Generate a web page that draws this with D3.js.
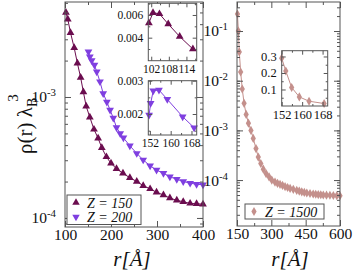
<!DOCTYPE html>
<html lang="en">
  <head>
    <meta charset="utf-8">
    <title>Density profiles</title>
    <script src="https://d3js.org/d3.v7.js"></script>
    <style>
    body {margin: 0; background: white;}
    svg {display: block; font-family: "Liberation Serif", "DejaVu Serif", serif;}
    </style>
  </head>
  <body>
  <script>

  // ---- data ----
  var r150   = [102, 106, 112, 120, 127, 134, 140, 146, 154, 163, 172, 180, 190, 200, 212, 226, 241, 256, 270, 285, 299, 314, 328, 343, 357, 372, 386, 400];
  var rho150 = [5.0e-3, 4.4e-3, 3.4e-3, 2.55e-3, 1.9e-3, 1.45e-3, 1.1e-3, 8.4e-4, 6.8e-4, 5.4e-4, 4.56e-4, 3.8e-4, 3.2e-4, 2.83e-4, 2.55e-4, 2.34e-4, 2.15e-4, 2.0e-4, 1.85e-4, 1.74e-4, 1.63e-4, 1.55e-4, 1.46e-4, 1.40e-4, 1.36e-4, 1.32e-4, 1.31e-4, 1.30e-4];

  var r200   = [151, 154, 158, 164, 169, 176, 183, 191, 198, 205, 212, 220, 227, 241, 256, 270, 285, 299, 314, 328, 343, 357, 372, 386, 400];
  var rho200 = [2.37e-3, 2.15e-3, 2.0e-3, 1.84e-3, 1.62e-3, 1.34e-3, 1.07e-3, 9.1e-4, 7.8e-4, 6.7e-4, 5.6e-4, 5.0e-4, 4.6e-4, 3.95e-4, 3.42e-4, 3.02e-4, 2.7e-4, 2.49e-4, 2.34e-4, 2.19e-4, 2.09e-4, 2.0e-4, 1.94e-4, 1.9e-4, 1.88e-4];

  var r1500   = [152, 156, 160, 166, 173, 181, 190, 200, 211, 221, 233, 243, 254, 265, 277, 290, 302, 316, 327, 338, 349, 360, 371, 382, 396, 411, 422, 433, 444, 455, 469, 483, 494, 505, 516, 527, 541, 556, 571, 586, 600];
  var rho1500 = [0.22, 0.10, 0.038, 0.015, 0.0068, 0.0035, 0.0021, 0.0014, 0.001, 6.9e-4, 4.3e-4, 2.9e-4, 2.15e-4, 1.66e-4, 1.35e-4, 1.16e-4, 1.0e-4, 9.1e-5, 8.6e-5, 8.2e-5, 7.8e-5, 7.4e-5, 7.1e-5, 6.8e-5, 6.5e-5, 6.2e-5, 6.0e-5, 5.8e-5, 5.65e-5, 5.5e-5, 5.38e-5, 5.26e-5, 5.18e-5, 5.1e-5, 5.05e-5, 5.0e-5, 4.97e-5, 4.94e-5, 4.9e-5, 4.86e-5, 4.84e-5];

  // insets
  var ri150   = [101.2, 102.6, 104.8, 107.8, 111.7, 116.2];
  var rhoi150 = [0.0053, 0.0062, 0.0061, 0.0052, 0.0041, 0.0030];
  var ri200   = [151.7, 152.3, 153.3, 155.5, 158.7, 164.6, 169];
  var rhoi200 = [0.00197, 0.00232, 0.0027, 0.00272, 0.00244, 0.00192, 0.00159];
  var ri1500   = [152, 153.6, 155.9, 158.9, 162.7, 168.6];
  var rhoi1500 = [0.29, 0.212, 0.112, 0.055, 0.029, 0.015];

  var leftXTicks  = [100, 200, 300, 400];
  var rightXTicks = [150, 300, 450, 600];
  var leftYTicks  = [1e-3, 1e-4];
  var rightYTicks = [1e-1, 1e-2, 1e-3, 1e-4];

  var c150 = "#6b0d4f", c200 = "#7f3fe0", c1500 = "#c4908c";
  var frameCol = "#555";

  var svg = d3.select("body").append("svg")
      .attr("width", 354).attr("height", 270);

  function zip(a, b) { return a.map((v, i) => [v, b[i]]); }

  // generic panel: frame + inside ticks on all four sides
  function frame(g, x, y, opt) {
    var x0 = x.range()[0], x1 = x.range()[1];
    var y0 = y.range()[1], y1 = y.range()[0];
    var ms = opt.major || 6, mn = opt.minor || 3;
    var fs = opt.fs || 13;

    function tk(axisFn, scale, vals, size, tr) {
      var a = g.append("g").attr("transform", tr)
        .call(axisFn(scale).tickValues(vals).tickSize(-size).tickFormat(""));
      a.select(".domain").remove();
      a.selectAll("line").attr("stroke", frameCol);
      return a;
    }
    tk(d3.axisBottom, x, opt.xMinor, mn, `translate(0,${y1})`);
    tk(d3.axisTop, x, opt.xMinor, mn, `translate(0,${y0})`);
    tk(d3.axisLeft, y, opt.yMinor, mn, `translate(${x0},0)`);
    tk(d3.axisRight, y, opt.yMinor, mn, `translate(${x1},0)`);
    tk(d3.axisTop, x, opt.xMajor, ms, `translate(0,${y0})`);
    tk(d3.axisRight, y, opt.yMajor, ms, `translate(${x1},0)`);

    var bx = g.append("g").attr("transform", `translate(0,${y1})`)
      .call(d3.axisBottom(x).tickValues(opt.xMajor).tickSize(-ms).tickPadding(ms + (opt.xPad || 0))
        .tickFormat(opt.xFmt || (d => d)));
    bx.select(".domain").remove();
    bx.selectAll("line").attr("stroke", frameCol);
    bx.selectAll("text").attr("font-family", "Liberation Serif").attr("font-size", fs).attr("fill", "#111");

    var by = g.append("g").attr("transform", `translate(${x0},0)`)
      .call(d3.axisLeft(y).tickValues(opt.yMajor).tickSize(-ms).tickPadding(ms + (opt.yPad || 3))
        .tickFormat(opt.yFmt || (d => d)));
    by.select(".domain").remove();
    by.selectAll("line").attr("stroke", frameCol);
    by.selectAll("text").attr("font-family", "Liberation Serif").attr("font-size", fs).attr("fill", "#111");
    if (opt.pow) {
      by.selectAll(".tick text").text(null).each(function(d) {
        var t = d3.select(this);
        t.append("tspan").text("10");
        t.append("tspan").attr("dy", -6).attr("font-size", fs * 0.7).text(Math.round(Math.log10(d)));
      });
    }

    g.append("rect")
      .attr("x", x0).attr("y", y0).attr("width", x1 - x0).attr("height", y1 - y0)
      .attr("fill", "none").attr("stroke", frameCol).attr("stroke-width", opt.sw || 1);
  }

  function series(g, x, y, rs, vs, col, sym, size, rot) {
    var pts = zip(rs, vs);
    g.append("path").datum(pts)
      .attr("fill", "none").attr("stroke", col).attr("stroke-width", 1)
      .attr("d", d3.line().x(d => x(d[0])).y(d => y(d[1])));
    g.selectAll(null).data(pts).join("path")
      .attr("transform", d => `translate(${x(d[0])},${y(d[1])}) rotate(${rot || 0})`)
      .attr("d", d3.symbol().type(sym).size(size))
      .attr("fill", col);
  }

  function minorLog(lo, hi) {
    var out = [];
    for (var e = Math.floor(Math.log10(lo)); e <= Math.ceil(Math.log10(hi)); e++)
      for (var m = 1; m < 10; m++) {
        var v = m * Math.pow(10, e);
        if (v >= lo && v <= hi) out.push(v);
      }
    return out;
  }

  // ---- left panel ----
  var Lx = d3.scaleLinear().domain([100, 400]).range([65, 203]);
  var Ly = d3.scaleLog().domain([8.42e-5, 6.1e-3]).range([227, 2]);
  var gL = svg.append("g");
  series(gL, Lx, Ly, r150, rho150, c150, d3.symbolTriangle, 26, 0);
  series(gL, Lx, Ly, r200, rho200, c200, d3.symbolTriangle, 26, 180);
  frame(gL, Lx, Ly, {
    xMajor: leftXTicks, xMinor: [150, 250, 350],
    yMajor: leftYTicks, yMinor: minorLog(8.42e-5, 6.1e-3),
    pow: true, fs: 15.5, xPad: -4, yPad: 3
  });

  // ---- right panel ----
  var Rx = d3.scaleLinear().domain([150, 600]).range([237, 340]);
  var Ry = d3.scaleLog().domain([1.19e-5, 0.384]).range([226, 2]);
  var gR = svg.append("g");
  series(gR, Rx, Ry, r1500, rho1500, c1500, d3.symbolDiamond, 24, 0);
  frame(gR, Rx, Ry, {
    xMajor: rightXTicks, xMinor: [225, 375, 525],
    yMajor: rightYTicks, yMinor: minorLog(1.19e-5, 0.384),
    pow: true, fs: 15.5, xPad: -4, yPad: 3
  });

  // ---- insets ----
  var I1x = d3.scaleLinear().domain([101, 117.5]).range([148.3, 196.7]);
  var I1y = d3.scaleLinear().domain([0.00197, 0.00703]).range([60.7, 3.3]);
  var g1 = svg.append("g");
  g1.append("rect").attr("x", 148.3).attr("y", 3.3).attr("width", 48.4).attr("height", 57.4).attr("fill", "white");
  series(g1, I1x, I1y, ri150, rhoi150, c150, d3.symbolTriangle, 26, 0);
  frame(g1, I1x, I1y, {
    xMajor: [102, 108, 114], xMinor: [105, 111, 117],
    yMajor: [0.004, 0.006], yMinor: [0.003, 0.005, 0.007],
    major: 4, minor: 2, fs: 11.5, xPad: 0, yPad: 1, yFmt: d3.format(".3f")
  });

  var I2x = d3.scaleLinear().domain([151.4, 170]).range([148.3, 196.7]);
  var I2y = d3.scaleLinear().domain([0.00137, 0.003]).range([135, 80.7]);
  var g2 = svg.append("g");
  g2.append("rect").attr("x", 148.3).attr("y", 80.7).attr("width", 48.4).attr("height", 54.3).attr("fill", "white");
  series(g2, I2x, I2y, ri200, rhoi200, c200, d3.symbolTriangle, 26, 180);
  frame(g2, I2x, I2y, {
    xMajor: [152, 160, 168], xMinor: [156, 164],
    yMajor: [0.002, 0.003], yMinor: [0.0015, 0.0025],
    major: 4, minor: 2, fs: 11.5, xPad: 0, yPad: 1, yFmt: d3.format(".3f")
  });

  var I3x = d3.scaleLinear().domain([152, 170]).range([281.7, 327.7]);
  var I3y = d3.scaleLinear().domain([0, 0.335]).range([106, 50.7]);
  var g3 = svg.append("g");
  g3.append("rect").attr("x", 281.7).attr("y", 50.7).attr("width", 46).attr("height", 55.3).attr("fill", "white");
  series(g3, I3x, I3y, ri1500, rhoi1500, c1500, d3.symbolDiamond, 24, 0);
  frame(g3, I3x, I3y, {
    xMajor: [152, 160, 168], xMinor: [156, 164],
    yMajor: [0.1, 0.2, 0.3], yMinor: [0.05, 0.15, 0.25],
    major: 4, minor: 2, fs: 12.5, xPad: 0, yPad: 1
  });

  // ---- legends ----
  function legend(x, y, w, h, items) {
    var g = svg.append("g");
    g.append("rect").attr("x", x).attr("y", y).attr("width", w).attr("height", h)
      .attr("fill", "white").attr("stroke", frameCol).attr("stroke-width", 1);
    items.forEach(function(it, i) {
      var cy = y + 7.5 + i * 14.5;
      g.append("path").attr("transform", `translate(${x + 9},${cy}) rotate(${it.rot})`)
        .attr("d", d3.symbol().type(it.sym).size(24)).attr("fill", it.col);
      g.append("text").attr("x", x + 20).attr("y", cy + 5)
        .attr("font-size", 14).attr("font-style", "italic").attr("fill", "#111")
        .text(it.label);
    });
  }
  legend(67, 195, 74, 29.5, [
    {label: "Z = 150", col: c150, sym: d3.symbolTriangle, rot: 0},
    {label: "Z = 200", col: c200, sym: d3.symbolTriangle, rot: 180}
  ]);
  legend(245, 204, 79, 15, [
    {label: "Z = 1500", col: c1500, sym: d3.symbolDiamond, rot: 0}
  ]);

  // ---- axis titles ----
  function xTitle(cx) {
    svg.append("text").attr("x", cx).attr("y", 266).attr("text-anchor", "middle")
      .attr("font-size", 21).attr("font-style", "italic").attr("fill", "#111")
      .text("r[Å]");
  }
  xTitle(132);
  xTitle(290);

  var yl = svg.append("text")
      .attr("transform", "translate(32,124) rotate(-90)")
      .attr("text-anchor", "middle").attr("font-size", 21).attr("fill", "#111");
  yl.append("tspan").text("ρ(r) λ");
  yl.append("tspan").attr("dy", 5).attr("font-size", 14).text("B");
  yl.append("tspan").attr("dx", -4).attr("dy", -19).attr("font-size", 15).text("3");

  </script>
  </body>
</html>
